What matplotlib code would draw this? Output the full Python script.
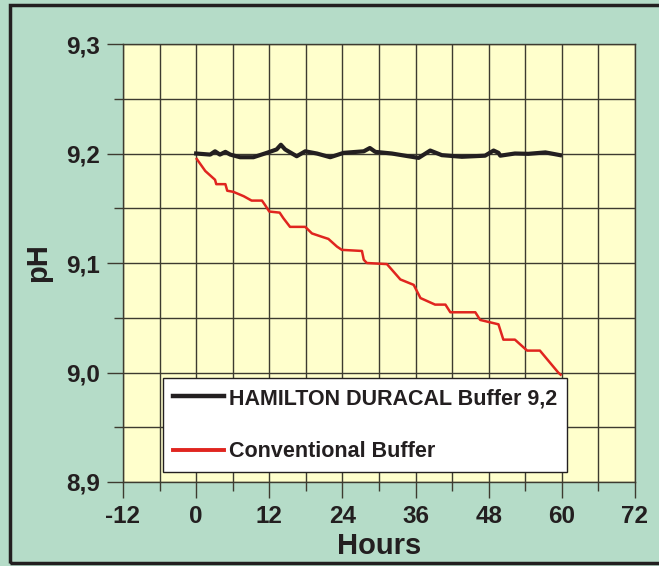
import matplotlib.pyplot as plt
from matplotlib.patches import Rectangle
from matplotlib.ticker import MultipleLocator, FuncFormatter

# Hamilton Duracal buffer 9.2 vs. conventional buffer, pH over time
duracal_hours = [0, 2.3, 3.1, 3.9, 4.8, 5.6, 7.2, 9.4, 11.6, 13.2, 13.9, 14.6, 16.5, 17.9,
                 19.8, 22.0, 24.2, 27.5, 28.5, 29.4, 32.1, 34.8, 36.5, 38.4, 40.3, 43.6,
                 47.4, 48.8, 49.6, 49.9, 52.3, 54.5, 57.3, 59.7]
duracal_ph = [9.200, 9.199, 9.202, 9.199, 9.2015, 9.199, 9.1966, 9.1966, 9.2006, 9.2037,
              9.208, 9.2037, 9.1975, 9.202, 9.200, 9.1966, 9.2006, 9.202, 9.205, 9.2015,
              9.200, 9.1975, 9.196, 9.2027, 9.1985, 9.197, 9.198, 9.2027, 9.2006, 9.198,
              9.200, 9.1997, 9.201, 9.1985]

conv_hours = [0.1, 1.5, 3.1, 3.3, 4.8, 5.1, 6.1, 7.8, 9.1, 10.8, 11.3, 12.0, 13.7, 14.3,
              15.4, 17.9, 19.0, 20.6, 21.7, 23.1, 23.9, 27.2, 27.5, 28.0, 31.3, 33.5,
              35.7, 36.8, 39.2, 40.9, 41.7, 45.8, 46.6, 49.6, 50.4, 52.3, 54.3, 56.4,
              59.4, 59.8]
conv_ph = [9.195, 9.184, 9.176, 9.172, 9.172, 9.166, 9.165, 9.161, 9.157, 9.157, 9.153,
           9.147, 9.146, 9.141, 9.133, 9.133, 9.127, 9.124, 9.122, 9.115, 9.112, 9.111,
           9.103, 9.100, 9.099, 9.085, 9.080, 9.068, 9.062, 9.062, 9.055, 9.055, 9.048,
           9.044, 9.030, 9.030, 9.020, 9.020, 9.000, 8.998]

labels = ["HAMILTON DURACAL Buffer 9,2", "Conventional Buffer"]

W, H = 659, 566
bg = "#b5dcc8"
plot_bg = "#ffffcc"
ink = "#231f20"
grid_col = "#3d3b30"
red = "#e0251f"

plt.rcParams["font.family"] = ["Liberation Sans", "DejaVu Sans"]
plt.rcParams["font.weight"] = "bold"
plt.rcParams["axes.unicode_minus"] = False

fig = plt.figure(figsize=(W / 100, H / 100), dpi=100, facecolor=bg)
ax = fig.add_axes([123 / W, (H - 482) / H, 512 / W, 438 / H], facecolor=plot_bg)

ax.plot(duracal_hours, duracal_ph, color=ink, lw=3.0, solid_joinstyle="round", zorder=3, label=labels[0])
ax.plot(conv_hours, conv_ph, color=red, lw=1.8, zorder=3, label=labels[1])

ax.set_xlim(-12, 72)
ax.set_ylim(8.9, 9.3)
ax.xaxis.set_major_locator(MultipleLocator(12))
ax.xaxis.set_minor_locator(MultipleLocator(6))
ax.yaxis.set_major_locator(MultipleLocator(0.1))
ax.yaxis.set_minor_locator(MultipleLocator(0.05))
ax.yaxis.set_major_formatter(FuncFormatter(lambda v, p: f"{v:.1f}".replace(".", ",")))
ax.grid(True, which="both", color=grid_col, lw=1.0, zorder=1)
ax.set_axisbelow(True)

ax.tick_params(which="major", length=11.5, width=1.0, color=grid_col, labelsize=17.5, pad=5)
ax.tick_params(which="minor", length=6.5, width=1.0, color=grid_col)
for lab in ax.get_xticklabels() + ax.get_yticklabels():
    lab.set_fontweight("bold")
    lab.set_color(ink)

for s in ax.spines.values():
    s.set_color(grid_col)
    s.set_linewidth(1.0)

ax.set_xlabel("Hours", fontsize=21, fontweight="bold", color=ink, labelpad=3)
ax.set_ylabel("pH", fontsize=21, fontweight="bold", color=ink, labelpad=10)

leg = ax.legend(loc="lower left", bbox_to_anchor=(163 / W, (H - 472) / H),
                bbox_transform=fig.transFigure, frameon=True, fancybox=False,
                fontsize=15.5, handlelength=2.4, handletextpad=0.2, labelspacing=1.5,
                borderpad=0.45, borderaxespad=0)
leg.get_frame().set_edgecolor(ink)
leg.get_frame().set_linewidth(1.0)
leg.get_frame().set_alpha(1)
leg.set_zorder(5)
leg.get_lines()[0].set_linewidth(3.2)
leg.get_lines()[1].set_linewidth(2.8)
for t in leg.get_texts():
    t.set_color(ink)

# dark frame around the chart
fig.add_artist(Rectangle((10 / W, 3 / H), 2, (H - 8) / H, transform=fig.transFigure,
                         fill=False, lw=2.5, edgecolor=ink))

fig.savefig("out.png", dpi=100, facecolor=bg)
